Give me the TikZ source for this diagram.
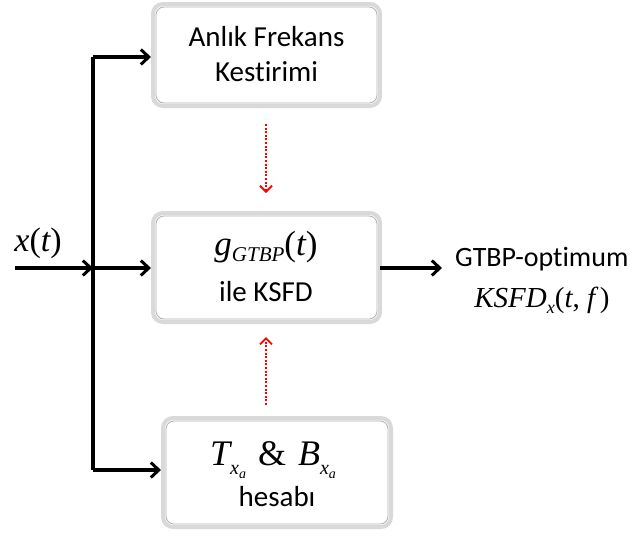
\documentclass[tikz,border=0pt]{standalone}
\usepackage{fontspec}
\setmainfont{Carlito}[Ligatures=NoCommon]
\newfontfamily\myserif{Liberation Serif}
\newcommand{\mi}[1]{{\myserif\itshape #1}}
\newcommand{\mr}[1]{{\myserif\upshape #1}}
\usetikzlibrary{arrows.meta}
\begin{document}
\begin{tikzpicture}[x=1pt,y=-1pt,
  blk/.style={draw=gray!30, line width=4pt, rounded corners=10pt, fill=white},
  blkin/.style={draw=gray!60, line width=0.8pt, rounded corners=8pt},
  conn/.style={line width=3.4pt, -{Straight Barb[length=8pt,width=15pt,line width=3pt]}},
  redarrow/.style={draw=red, line width=2.4pt, dash pattern=on 2pt off 1.6pt, -{Straight Barb[length=6pt,width=12pt,line width=1.8pt]}},
  txt/.style={font=\fontsize{29}{35}\selectfont, align=center, inner sep=0pt}]
\useasboundingbox (0,0) rectangle (639,536);
% boxes
\draw[blk] (153,4) rectangle (380,106);
\draw[blkin] (156,7) rectangle (377,103);
\node[txt] (t1) at (266.5,37) {Anlık Frekans};
\node[txt] (t1b) at (266.5,72) {Kestirimi};
\coordinate (b1w) at (151,57);
\draw[blk] (153,213) rectangle (380,322);
\draw[blkin] (156,216) rectangle (377,319);
\coordinate (b2w) at (151,268);
\coordinate (b2e) at (380,268);
\node[font=\fontsize{35}{40}\selectfont, inner sep=0pt] (g) at (266,247) {\mi{g}\raisebox{-6pt}{\fontsize{21}{24}\selectfont\mi{GTBP}}\mr{(}\mi{t}\mr{)}};
\node[txt] (ile) at (266,292) {ile KSFD};
\draw[blk] (163,418) rectangle (391,527);
\draw[blkin] (166,421) rectangle (388,524);
\coordinate (b3w) at (161,470);
\node[font=\fontsize{36}{40}\selectfont, inner sep=0pt] (tb) at (273,460) {\mi{T}\raisebox{-9pt}{\fontsize{20}{22}\selectfont\mi{x}\raisebox{-4pt}{\fontsize{14}{16}\selectfont\mi{a}}}\hspace{12pt}\mr{\&}\hspace{12pt}\mi{B}\raisebox{-9pt}{\fontsize{20}{22}\selectfont\mi{x}\raisebox{-4pt}{\fontsize{14}{16}\selectfont\mi{a}}}};
\node[txt] (hes) at (277,497) {hesabı};
% input
\coordinate (in) at (15,268);
\coordinate (j) at (93,268);
\coordinate (jt) at (93,57);
\coordinate (jb) at (93,470);
\node[font=\fontsize{34}{38}\selectfont, inner sep=0pt] (x) at (38,243) {\mi{x}\mr{(}\mi{t}\mr{)}};
\draw[conn] (in) -- (j);
\draw[line width=3.4pt] (jt) -- (jb);
\draw[conn] (jt) -- (b1w);
\draw[conn] (j) -- (b2w);
\draw[conn] (jb) -- (b3w);
% output
\coordinate (out) at (442,268);
\draw[conn] (b2e) -- (out);
\node[font=\fontsize{28}{32}\selectfont, anchor=west, inner sep=0pt] (o1) at (455,259) {GTBP-optimum};
\node[font=\fontsize{29}{33}\selectfont, inner sep=0pt] (o2) at (542,300) {\mi{KSFD}\raisebox{-6pt}{\fontsize{18}{20}\selectfont\mi{x}}\mr{(}\mi{t}\mr{, }\mi{f}\mr{\,)}};
% red dotted
\coordinate (r1s) at (266,124);
\coordinate (r1e) at (266,193);
\draw[redarrow] (r1s) -- (r1e);
\coordinate (r2s) at (266,405);
\coordinate (r2e) at (266,337);
\draw[redarrow] (r2s) -- (r2e);
\end{tikzpicture}
\end{document}
